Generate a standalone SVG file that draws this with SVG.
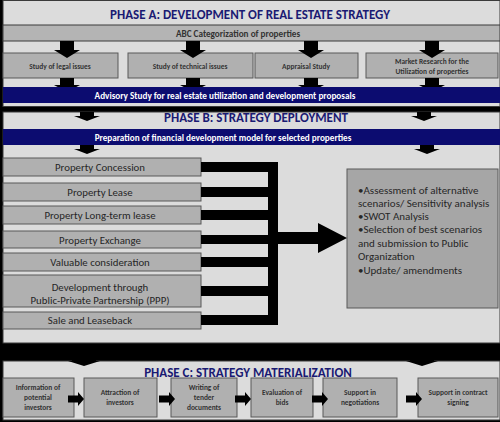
<svg xmlns="http://www.w3.org/2000/svg" xmlns:xlink="http://www.w3.org/1999/xlink" width="500" height="422" viewBox="0 0 500 422">
<style>
text{font-family:Carlito,Lato,"Liberation Sans",sans-serif;dominant-baseline:central}
.panel{fill:#dcdcdc;stroke:#3a3a3a;stroke-width:1}
.band{fill:#b4b4b4;stroke:#3a3a3a;stroke-width:1}
.navy{fill:#0c0c70}
.box{fill:#b0b0b0;stroke:#595959;stroke-width:1}
.title{font-weight:bold;font-size:13px;fill:#1a1a73;text-anchor:middle}
.sb{font-weight:bold;font-size:7.4px;fill:#333;text-anchor:middle}
.cb{font-weight:bold;font-size:7.4px;fill:#333;text-anchor:middle}
.wb{font-weight:bold;font-size:9.2px;fill:#fff;text-anchor:middle}
.lb{font-size:10.8px;fill:#262626;text-anchor:middle}
.rb{font-size:11px;fill:#262626}
.blk{fill:#000}
</style>
<defs>
<path id="dnA" d="M-7,0 H7 V9 H13 L0,17 L-13,9 H-7 Z"/>
<path id="dnA2" d="M-7,0 H7 V7 H13 L0,14 L-13,7 H-7 Z"/>
<path id="dnB" d="M-7,0 H7 V4 H13 L0,9 L-13,4 H-7 Z"/>
<path id="rt" d="M0,-3.5 H10 V-7 L16,0 L10,7 V3.5 H0 Z"/>
</defs>
<rect width="500" height="422" fill="#000"/>
<g id="phaseA">
<rect class="panel" x="3" y="0.5" width="497" height="106"/>
<text class="title" x="250" y="14">PHASE A: DEVELOPMENT OF REAL ESTATE STRATEGY</text>
</g>
<g id="abc">
<rect class="band" x="3" y="25" width="497" height="16"/>
<text class="wb" x="238" y="33" style="fill:#333">ABC  Categorization of properties</text>
</g>
<g id="legal"><rect class="box" x="3" y="53" width="115" height="25"/><text class="sb" x="60" y="66">Study of legal issues</text></g>
<g id="technical"><rect class="box" x="128" y="53" width="125" height="25"/><text class="sb" x="190" y="66">Study of technical issues</text></g>
<g id="appraisal"><rect class="box" x="255" y="53" width="103" height="25"/><text class="sb" x="306" y="66">Appraisal Study</text></g>
<g id="market"><rect class="box" x="366" y="53" width="132" height="25"/><text class="sb" x="432" y="61.5">Market Research for the</text><text class="sb" x="432" y="71">Utilization of properties</text></g>
<g id="connectors">
<use href="#dnA" x="67" y="41"/><use href="#dnA" x="193" y="41"/><use href="#dnA" x="311" y="41"/><use href="#dnA" x="432" y="41"/>
<use href="#dnA2" x="67" y="78"/><use href="#dnA2" x="193" y="78"/><use href="#dnA2" x="311" y="78"/><use href="#dnA2" x="432" y="78"/>
</g>
<g id="advisory">
<rect class="navy" x="3" y="87" width="497" height="16"/>
<text class="wb" x="225" y="95">Advisory Study for real estate utilization and development proposals</text>
</g>
<g id="phaseB">
<rect class="panel" x="3" y="112" width="497" height="231"/>
<text class="title" x="256" y="117.5">PHASE B: STRATEGY DEPLOYMENT</text>
</g>
<g id="prep">
<rect class="navy" x="3" y="129" width="497" height="16"/>
<text class="wb" x="223" y="137.5">Preparation of financial development model for selected properties</text>
</g>
<g id="c1"><rect class="box" x="3" y="158" width="198" height="18"/><text class="lb" x="100" y="167.5">Property Concession</text></g>
<g id="c2"><rect class="box" x="3" y="183" width="198" height="18"/><text class="lb" x="100" y="192.5">Property Lease</text></g>
<g id="c3"><rect class="box" x="3" y="206" width="198" height="18"/><text class="lb" x="100" y="215.5">Property Long-term lease</text></g>
<g id="c4"><rect class="box" x="3" y="231" width="198" height="17"/><text class="lb" x="100" y="240.5">Property Exchange</text></g>
<g id="c5"><rect class="box" x="3" y="253" width="198" height="18"/><text class="lb" x="100" y="262">Valuable consideration</text></g>
<g id="c6"><rect class="box" x="3" y="275" width="198" height="32"/><text class="lb" x="100" y="287">Development through</text><text class="lb" x="100" y="300">Public-Private Partnership (PPP)</text></g>
<g id="c7"><rect class="box" x="3" y="312" width="198" height="17"/><text class="lb" x="90" y="320">Sale and Leaseback</text></g>
<g id="analysis">
<rect class="box" x="347" y="169" width="151" height="139" style="fill:#a6a6a6"/>
<text class="rb" x="358" y="190">•Assessment of alternative</text>
<text class="rb" x="358" y="203">scenarios/ Sensitivity analysis</text>
<text class="rb" x="358" y="216">•SWOT Analysis</text>
<text class="rb" x="358" y="229">•Selection of best scenarios</text>
<text class="rb" x="358" y="243">and submission to Public</text>
<text class="rb" x="358" y="256">Organization</text>
<text class="rb" x="358" y="270">•Update/ amendments</text>
</g>
<g id="connectorsB" class="blk">
<use href="#dnB" x="87" y="112"/><use href="#dnB" x="424" y="112"/>
<use href="#dnB" x="87" y="145"/><use href="#dnB" x="427" y="145"/>
<rect x="201" y="162" width="77" height="10"/>
<rect x="201" y="187" width="77" height="10"/>
<rect x="201" y="210" width="77" height="10"/>
<rect x="201" y="235" width="77" height="9"/>
<rect x="201" y="257" width="77" height="10"/>
<rect x="201" y="286" width="77" height="10"/>
<rect x="201" y="315" width="77" height="10"/>
<rect x="268" y="162" width="10" height="163"/>
<path d="M278,232 H318 V223 L347,238 L318,253 V244 H278 Z"/>
</g>
<g id="phaseC">
<rect class="panel" x="3" y="361" width="497" height="59"/>
<text class="title" x="248" y="372">PHASE C: STRATEGY MATERIALIZATION</text>
</g>
<g id="d1"><rect class="box" x="3" y="378" width="71" height="39"/><text class="cb" x="38" y="387">Information of</text><text class="cb" x="38" y="397">potential</text><text class="cb" x="38" y="407">investors</text></g>
<g id="d2"><rect class="box" x="84" y="378" width="73" height="39"/><text class="cb" x="120" y="392">Attraction of</text><text class="cb" x="120" y="402">investors</text></g>
<g id="d3"><rect class="box" x="171" y="378" width="66" height="39"/><text class="cb" x="204" y="387">Writing of</text><text class="cb" x="204" y="397">tender</text><text class="cb" x="204" y="407">documents</text></g>
<g id="d4"><rect class="box" x="251" y="378" width="62" height="39"/><text class="cb" x="282" y="392">Evaluation of</text><text class="cb" x="282" y="402">bids</text></g>
<g id="d5"><rect class="box" x="323" y="378" width="74" height="39"/><text class="cb" x="360" y="392">Support in</text><text class="cb" x="360" y="402">negotiations</text></g>
<g id="d6"><rect class="box" x="418" y="378" width="80" height="39"/><text class="cb" x="458" y="392">Support in contract</text><text class="cb" x="458" y="402">signing</text></g>
<g id="connectorsC" class="blk">
<path d="M72,358 H96 V361 H100 L84,366 L68,361 H72 Z"/>
<path d="M410,358 H434 V361 H438 L422,366 L406,361 H410 Z"/>
<use href="#rt" x="68" y="399"/><use href="#rt" x="159" y="399"/><use href="#rt" x="235" y="399"/><use href="#rt" x="312" y="399"/><use href="#rt" x="406" y="399"/>
</g>
</svg>
